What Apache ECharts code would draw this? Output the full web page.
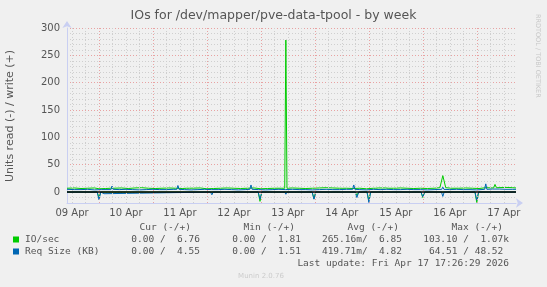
<!DOCTYPE html>
<html><head><meta charset="utf-8">
<script src="https://cdn.jsdelivr.net/npm/echarts@6/dist/echarts.min.js"></script>
<style>html,body{margin:0;padding:0;background:#f0f0f0}#c{width:547px;height:287px}</style>
</head><body><div id="c"></div>
<script>
// Hours counted from 09 Apr 00:00
const xStart = 9.78;     // 09 Apr ~09:47
const xEnd = 209.44;     // 17 Apr 17:26
const dayLabels = ['09 Apr','10 Apr','11 Apr','12 Apr','13 Apr','14 Apr','15 Apr','16 Apr','17 Apr'];
const dayLabelHours = [12,36,60,84,108,132,156,180,204];
const yTickLabels = [0,50,100,150,200,250,300];

// IO/sec write (+), [hour, value]
const ioWrite = [[9.78,7],[13,7.5],[16,6.5],[19,7],[22,7.5],[24,6],[27,6.5],[29.2,7],[29.8,9],[30.4,7],[34,7.5],[37,6.5],[40,7.5],[43,8],[46,7],[49,6.5],[52,7],[55,7.5],[58,7],[61,6.5],[63,7],[63.6,9],[64.2,7],[69,7.5],[72,6],[75,6.5],[78,7],[81,7.5],[84,7],[87,6.5],[90,7],[93,7.5],[96,6],[99,6.5],[102,7],[105,7],[106.6,7],[107.1,278],[107.6,7],[110,7.5],[113,7],[116,6.5],[119,7],[122,7.5],[125,8],[128,7.5],[131,7],[134,7],[137,6.5],[140,7],[143,6],[146,7],[147,7],[147.6,10],[148.2,7.5],[151.4,7.5],[152,11],[152.6,7],[155,7],[158,7.5],[161,7],[164,6.5],[167,7],[170,6.5],[173,7],[175.6,8],[176.9,30],[178.2,8],[181,7],[184,7],[187,7.5],[190,7],[193,6.5],[196,8],[199.5,7.5],[200.1,14],[200.7,8],[205,8.5],[208,8],[209.44,7.5]];
// IO/sec read (-), [hour, value]
const ioRead = [[9.78,0],[23.2,0],[24,10],[24.8,0],[94.8,0],[95.6,17],[96.4,0],[118.8,0],[119.6,12],[120.4,0],[137.9,0],[138.7,6],[139.5,0],[143.2,0],[144,15],[144.8,0],[167.2,0],[168,10],[168.8,0],[191.2,0],[192,19],[192.8,0],[209.44,0]];
// Req Size (KB) write (+), [hour, value]
const reqWrite = [[9.78,5],[13,4.5],[16,4.5],[19,5],[22,4],[25,4.5],[29.3,4.5],[29.8,11],[30.3,5],[33,4.5],[36,5],[39,4.5],[42,4],[45,4.5],[48,5],[51,4.5],[54,4.5],[57,5],[58.6,5],[59.1,12],[59.6,5],[62,4.5],[65,4],[68,4.5],[71,5],[74,4.5],[77,4.5],[80,5],[83,4.5],[86,4],[89,4.5],[91.1,5],[91.6,13],[92.1,5],[95,4.5],[98,4],[101,4.5],[104,5],[107,4.5],[110,5],[113,4.5],[116,4.5],[119,4],[122,4.5],[125,5],[128,4.5],[131,4.5],[134,5],[136.8,5],[137.3,13],[137.8,5],[140,4.5],[143,4],[146,5],[149,4.5],[152,5],[155,4.5],[158,4.5],[161,5],[164,4.5],[167,4.5],[170,4],[173,4.5],[176.4,5],[176.9,9],[177.4,5],[180,4.5],[183,5],[186,4.5],[189,4.5],[192,4],[195.5,5],[196,15],[196.5,5],[199,5.5],[202,5.5],[205,5],[208,5],[209.44,5]];
// Req Size (KB) read (-), [hour, value]
const reqRead = [[9.78,0],[23.2,0],[24,14],[24.8,0],[25.6,0],[26.2,3],[26.8,0],[73.6,0],[74.2,5],[74.8,0],[94.8,0],[95.6,13],[96.4,0],[98.5,0],[99.1,3],[99.7,0],[106.6,0],[107.1,4],[107.6,0],[118.8,0],[119.6,13],[120.4,0],[137.9,0],[138.7,10],[139.5,0],[143.2,0],[144,19],[144.8,0],[167.2,0],[168,9],[168.8,0],[176.3,0],[176.9,8],[177.5,0],[191.2,0],[192,15],[192.8,0],[209.44,0]];

const legendNames = ['IO/sec','Req Size (KB)'];
const legendColors = ['#00cc00','#0066b3'];
const curText = ['0.00 /  6.76','0.00 /  4.55'];
const minText = ['0.00 /  1.81','0.00 /  1.51'];
const avgText = ['265.16m/  6.85','419.71m/  4.82'];
const maxText = ['103.10 /  1.07k','64.51 / 48.52 '];

const neg = a => a.map(p => [p[0], -p[1]]);
const majorV = [], minorV = [];
for (let h = 12; h < xEnd; h += 6) { (h % 24 === 0 ? majorV : minorV).push(h); }

const GRID_C = '#cfcfcf', MGRID_C = '#e8a2a2', AXIS_C = '#c9cff2';
const TXT = '#555555';
const SANS = 'DejaVu Sans', MONO = 'DejaVu Sans Mono';

const chart = echarts.init(document.getElementById('c'), null, {renderer: 'canvas'});
const gfx = [];
gfx.push({type:'text', left:'center', top:9, style:{text:'IOs for /dev/mapper/pve-data-tpool - by week', font:'12.5px "DejaVu Sans"', fill:TXT}});
gfx.push({type:'text', x:4.5, y:182, rotation:Math.PI/2, style:{text:'Units read (-) / write (+)', font:'11px "DejaVu Sans"', fill:TXT}});
gfx.push({type:'text', x:541, y:14, rotation:-Math.PI/2, style:{text:'RRDTOOL / TOBI OETIKER', font:'6.5px "DejaVu Sans"', fill:'#c8c8c8'}});
const hdrY = 228, rowY = [239.5, 251.5];
[['Cur (-/+)',191],['Min (-/+)',295],['Avg (-/+)',399],['Max (-/+)',503]].forEach(h => {
  gfx.push({type:'text', x:h[1], y:hdrY, style:{text:h[0], font:'9.5px "DejaVu Sans Mono"', fill:TXT, align:'right', verticalAlign:'middle'}});
});
for (let i = 0; i < 2; i++) {
  gfx.push({type:'rect', shape:{x:13, y:rowY[i]-3, width:6, height:6}, style:{fill:legendColors[i]}});
  gfx.push({type:'text', x:25, y:rowY[i], style:{text:legendNames[i], font:'9.5px "DejaVu Sans Mono"', fill:TXT, verticalAlign:'middle'}});
  [[curText[i],200],[minText[i],301],[avgText[i],402],[maxText[i],509]].forEach(v => {
    gfx.push({type:'text', x:v[1], y:rowY[i], style:{text:v[0], font:'9.5px "DejaVu Sans Mono"', fill:TXT, align:'right', verticalAlign:'middle'}});
  });
}
gfx.push({type:'text', x:509, y:263.5, style:{text:'Last update: Fri Apr 17 17:26:29 2026', font:'9.5px "DejaVu Sans Mono"', fill:TXT, align:'right', verticalAlign:'middle'}});
gfx.push({type:'text', x:261, y:276.5, style:{text:'Munin 2.0.76', font:'7px "DejaVu Sans"', fill:'#cccccc', align:'center', verticalAlign:'middle'}});

const lineSeries = (data, color) => ({type:'line', data, showSymbol:false, symbol:'none', lineStyle:{color, width:1}, itemStyle:{color}, silent:true, z:3});

chart.setOption({
  animation:false,
  backgroundColor:'#f0f0f0',
  grid:{left:67, right:31, top:28, bottom:84, containLabel:false, outerBoundsMode:'none'},
  xAxis:{type:'value', min:xStart, max:xEnd,
    axisLine:{onZero:false, lineStyle:{color:AXIS_C, width:1}, symbol:['none','arrow'], symbolSize:[7,7], symbolOffset:[0,7]},
    axisTick:{show:false}, splitLine:{show:false},
    axisLabel:{customValues:dayLabelHours, color:TXT, fontFamily:SANS, fontSize:10, margin:5,
      formatter: v => dayLabels[Math.round((v-12)/24)]}},
  yAxis:{type:'value', min:-20, max:300, interval:10,
    axisLine:{show:true, lineStyle:{color:AXIS_C, width:1}, symbol:['none','arrow'], symbolSize:[7,7], symbolOffset:[0,7]},
    axisTick:{show:false},
    axisLabel:{color:TXT, fontFamily:SANS, fontSize:10, margin:7, formatter: v => (yTickLabels.indexOf(v) >= 0 ? String(v) : '')},
    splitLine:{show:true, lineStyle:{color:[GRID_C,GRID_C,MGRID_C,GRID_C,GRID_C], type:[1,2], width:1}}},
  graphic: gfx,
  series:[
    {type:'line', data:[], silent:true, z:1,
      markLine:{silent:true, symbol:'none', label:{show:false}, animation:false,
        data: minorV.map(h => ({xAxis:h, lineStyle:{color:GRID_C, type:[1,2], width:1}}))
          .concat(majorV.map(h => ({xAxis:h, lineStyle:{color:MGRID_C, type:[1,2], width:1}})))}},
    lineSeries(neg(ioRead), '#00cc00'),
    lineSeries(ioWrite, '#00cc00'),
    lineSeries(neg(reqRead), '#0066b3'),
    lineSeries(reqWrite, '#0066b3'),
    {type:'line', data:[], silent:true, z:5,
      markLine:{silent:true, symbol:'none', label:{show:false}, animation:false,
        data:[{yAxis:0, lineStyle:{color:'#000000', type:'solid', width:1.5}}]}}
  ]
});
</script></body></html>
